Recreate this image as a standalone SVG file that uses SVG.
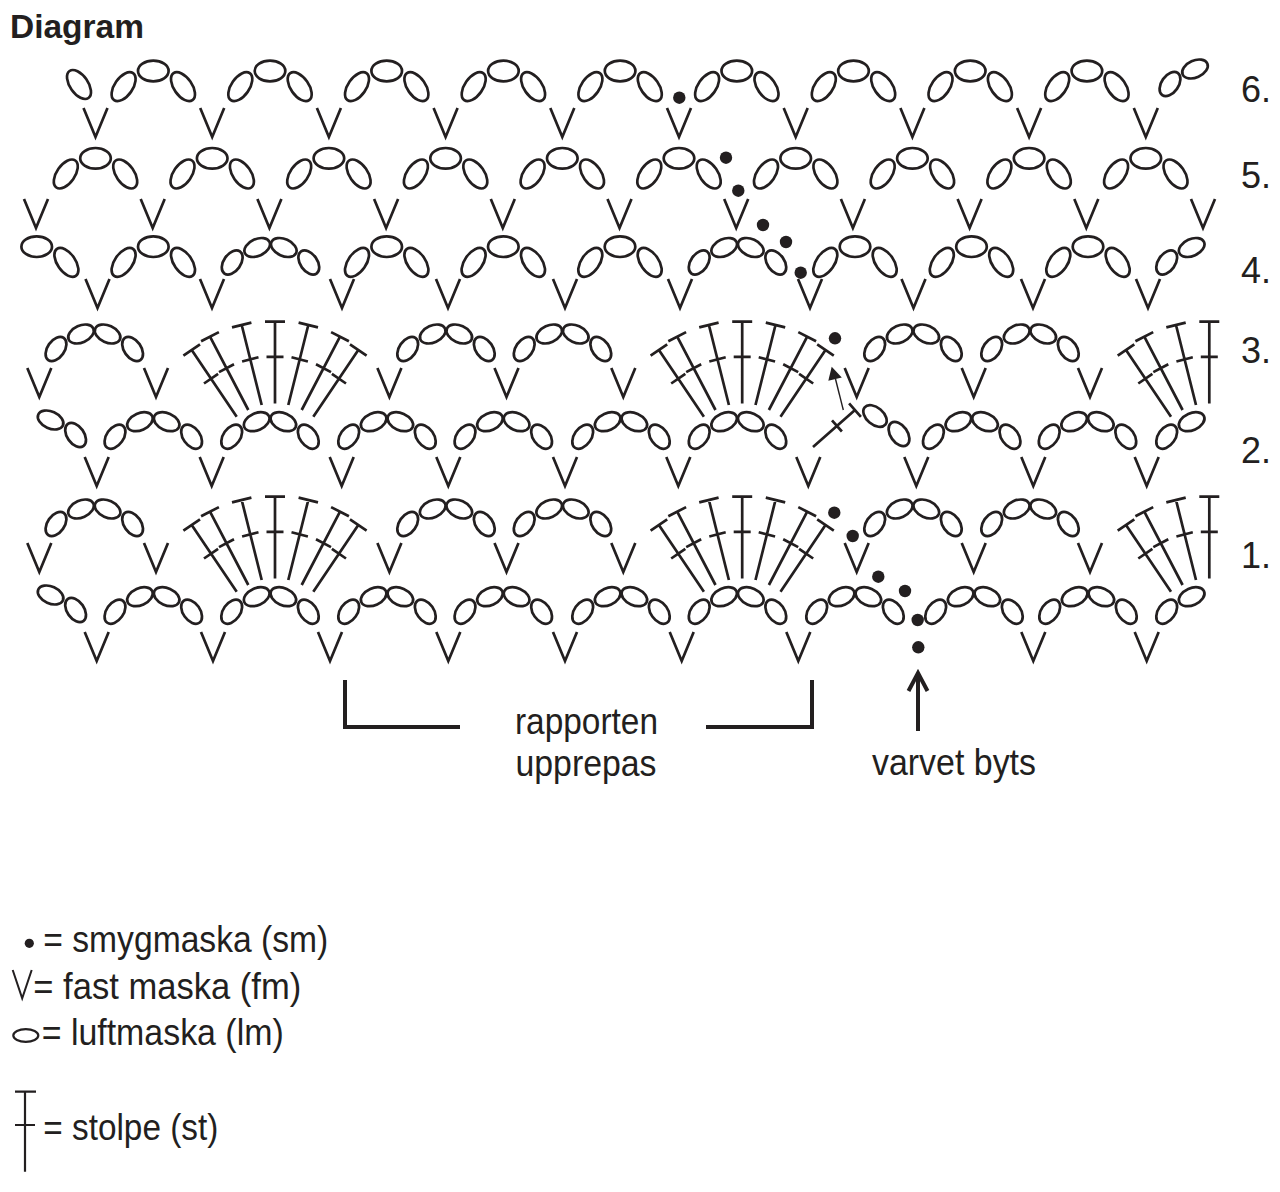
<svg xmlns="http://www.w3.org/2000/svg" xmlns:xlink="http://www.w3.org/1999/xlink" width="1280" height="1192" viewBox="0 0 1280 1192">
<style>
.ln{fill:none;stroke:#231f20;stroke-width:2.7}
.thick{fill:none;stroke:#231f20;stroke-width:4}
.thin{fill:none;stroke:#231f20;stroke-width:1.4}
.dot{fill:#231f20}
.t{font-family:"Liberation Sans",Arial,Helvetica,sans-serif;fill:#231f20;font-size:36px}
.b{font-family:"Liberation Sans",Arial,Helvetica,sans-serif;fill:#231f20;font-size:33px;font-weight:bold}
</style>
<defs>
<path id="v" d="M-12,0L0,29L12,0"/>
<g id="a3"><ellipse rx="15.3" ry="10.3"/><ellipse rx="16.5" ry="9" transform="translate(-29.7 15.7) rotate(-55)"/><ellipse rx="16.5" ry="9" transform="translate(29.7 15.7) rotate(55)"/></g>
<g id="a3r"><ellipse rx="15.3" ry="10.3"/><ellipse rx="16.5" ry="9" transform="translate(29.7 15.7) rotate(55)"/></g>
<g id="a4l"><ellipse rx="13.5" ry="8.5" transform="translate(-38.3 15) rotate(-55)"/><ellipse rx="13.5" ry="8.5" transform="translate(-13.3 0) rotate(-24)"/></g>
<g id="a4r"><ellipse rx="13.5" ry="8.5" transform="translate(13.3 0) rotate(24)"/><ellipse rx="13.5" ry="8.5" transform="translate(38.3 15) rotate(55)"/></g>
<g id="a4"><use href="#a4l"/><use href="#a4r"/></g>
<path id="fanL" d="M0,0V81.7M-10,0H10M-8.5,35.1H8.5M-33.3,3.3L-13.3,83.3M-43,5.7L-23.6,0.9M-32.9,39.8L-16.5,35.6M-65,15L-26.7,88.3M-73.9,19.6L-56.1,10.4M-56,50.4L-41,42.6M-83.3,28.3L-38.3,95M-91.6,33.9L-75,22.7M-71,61.8L-56.9,52.2"/>
<path id="fanR" d="M33.3,3.3L13.3,83.3M43,5.7L23.6,0.9M32.9,39.8L16.5,35.6M65,15L26.7,88.3M73.9,19.6L56.1,10.4M56,50.4L41,42.6M83.3,28.3L38.3,95M91.6,33.9L75,22.7M71,61.8L56.9,52.2"/>
<g id="fan"><use href="#fanL"/><use href="#fanR"/></g>
</defs>
<rect width="1280" height="1192" fill="#ffffff"/>
<text id="title" class="b" x="10" y="38" textLength="134" lengthAdjust="spacingAndGlyphs">Diagram</text>

<g id="row6" class="ln">
<use href="#v" x="95.5" y="108"/><use href="#v" x="212.2" y="108"/><use href="#v" x="328.9" y="108"/><use href="#v" x="445.6" y="108"/><use href="#v" x="562.3" y="108"/><use href="#v" x="679" y="108"/><use href="#v" x="795.7" y="108"/><use href="#v" x="912.4" y="108"/><use href="#v" x="1029.1" y="108"/><use href="#v" x="1145.8" y="108"/>
<use href="#a3" x="153.3" y="71"/><use href="#a3" x="270" y="71"/><use href="#a3" x="386.7" y="71"/><use href="#a3" x="503.4" y="71"/><use href="#a3" x="620.1" y="71"/><use href="#a3" x="736.8" y="71"/><use href="#a3" x="853.5" y="71"/><use href="#a3" x="970.2" y="71"/><use href="#a3" x="1086.9" y="71"/>
<ellipse rx="16.5" ry="9" transform="translate(79 84.5) rotate(55)"/>
<use href="#a4l" x="1208.3" y="69"/>
</g>

<g id="row5" class="ln">
<use href="#v" x="36" y="199"/><use href="#v" x="152.7" y="199"/><use href="#v" x="269.4" y="199"/><use href="#v" x="386.1" y="199"/><use href="#v" x="502.8" y="199"/><use href="#v" x="619.5" y="199"/><use href="#v" x="736.2" y="199"/><use href="#v" x="852.9" y="199"/><use href="#v" x="969.6" y="199"/><use href="#v" x="1086.3" y="199"/><use href="#v" x="1203" y="199"/>
<use href="#a3" x="95.5" y="158.3"/><use href="#a3" x="212.2" y="158.3"/><use href="#a3" x="328.9" y="158.3"/><use href="#a3" x="445.6" y="158.3"/><use href="#a3" x="562.3" y="158.3"/><use href="#a3" x="679" y="158.3"/><use href="#a3" x="795.7" y="158.3"/><use href="#a3" x="912.4" y="158.3"/><use href="#a3" x="1029.1" y="158.3"/><use href="#a3" x="1145.8" y="158.3"/>
</g>

<g id="row4" class="ln">
<use href="#v" x="97.5" y="279"/><use href="#v" x="212" y="279"/><use href="#v" x="342" y="279"/><use href="#v" x="448" y="279"/><use href="#v" x="565" y="279"/><use href="#v" x="680" y="279"/><use href="#v" x="810" y="279"/><use href="#v" x="913.5" y="279"/><use href="#v" x="1033" y="279"/><use href="#v" x="1148" y="279"/>
<use href="#a3r" x="36.7" y="246.7"/>
<use href="#a3" x="153.3" y="246.7"/><use href="#a3" x="386.7" y="246.7"/><use href="#a3" x="503.3" y="246.7"/><use href="#a3" x="620" y="246.7"/><use href="#a3" x="855" y="246.7"/><use href="#a3" x="971.5" y="246.7"/><use href="#a3" x="1088" y="246.7"/>
<use href="#a4" x="270.5" y="247.5"/><use href="#a4" x="737.5" y="247.5"/>
<use href="#a4l" x="1205" y="247.5"/>
</g>

<g id="row3" class="ln">
<use href="#v" x="39.3" y="368"/><use href="#v" x="156" y="368"/><use href="#v" x="389.4" y="368"/><use href="#v" x="506.5" y="368"/><use href="#v" x="623.3" y="368"/><use href="#v" x="856.7" y="368"/><use href="#v" x="973.7" y="368"/><use href="#v" x="1090" y="368"/>
<use href="#a4" x="94.3" y="334"/><use href="#a4" x="446" y="334"/><use href="#a4" x="562.5" y="334"/><use href="#a4" x="913" y="334"/><use href="#a4" x="1030" y="334"/>
<use href="#fan" x="275" y="321.7"/><use href="#fan" x="742.2" y="321.7"/><use href="#fanL" x="1209.3" y="321.7"/>
</g>

<g id="row2" class="ln">
<use href="#v" x="96.7" y="457"/><use href="#v" x="211.7" y="457"/><use href="#v" x="341.7" y="457"/><use href="#v" x="448.3" y="457"/><use href="#v" x="565" y="457"/><use href="#v" x="678.3" y="457"/><use href="#v" x="808.3" y="457"/><use href="#v" x="916.3" y="457"/><use href="#v" x="1033.3" y="457"/><use href="#v" x="1146.7" y="457"/>
<use href="#a4r" x="37.3" y="420"/>
<use href="#a4" x="153.3" y="421.7"/><use href="#a4" x="270" y="421.7"/><use href="#a4" x="387" y="421.7"/><use href="#a4" x="503.3" y="421.7"/><use href="#a4" x="621" y="421.7"/><use href="#a4" x="737.5" y="421.7"/><use href="#a4" x="971.7" y="421.7"/><use href="#a4" x="1087.5" y="421.7"/>
<use href="#a4l" x="1205" y="421.7"/>
<path d="M813,447L855,410M849.1,403.3L860.9,416.8M832,420.3L841.9,431.5"/>
<ellipse rx="13.5" ry="8.5" transform="translate(875 416) rotate(40)"/>
<ellipse rx="13.5" ry="8.5" transform="translate(899 434) rotate(55)"/>
</g>

<g id="row1" class="ln">
<use href="#v" x="39.3" y="543"/><use href="#v" x="156" y="543"/><use href="#v" x="389.4" y="543"/><use href="#v" x="506.5" y="543"/><use href="#v" x="623.3" y="543"/><use href="#v" x="856.7" y="543"/><use href="#v" x="973.7" y="543"/><use href="#v" x="1090" y="543"/>
<use href="#a4" x="94.3" y="509"/><use href="#a4" x="446" y="509"/><use href="#a4" x="562.5" y="509"/><use href="#a4" x="913" y="509"/><use href="#a4" x="1030" y="509"/>
<use href="#fan" x="275" y="496.7"/><use href="#fan" x="742.2" y="496.7"/><use href="#fanL" x="1209.3" y="496.7"/>
</g>

<g id="row0" class="ln">
<use href="#v" x="96.7" y="632"/><use href="#v" x="213" y="632"/><use href="#v" x="330" y="632"/><use href="#v" x="448.3" y="632"/><use href="#v" x="565" y="632"/><use href="#v" x="681.7" y="632"/><use href="#v" x="798.3" y="632"/><use href="#v" x="1033.3" y="632"/><use href="#v" x="1146.7" y="632"/>
<use href="#a4r" x="37.3" y="595"/>
<use href="#a4" x="153.3" y="596.7"/><use href="#a4" x="270" y="596.7"/><use href="#a4" x="387" y="596.7"/><use href="#a4" x="503.3" y="596.7"/><use href="#a4" x="621" y="596.7"/><use href="#a4" x="737.5" y="596.7"/><use href="#a4" x="855" y="596.7"/><use href="#a4" x="974" y="596.7"/><use href="#a4" x="1088" y="596.7"/>
<use href="#a4l" x="1205" y="596.7"/>
</g>

<g id="slipstitches" class="dot">
<circle cx="679.3" cy="97.7" r="6.2"/>
<circle cx="726" cy="157.7" r="6.2"/><circle cx="738.3" cy="190.7" r="6.2"/>
<circle cx="763" cy="225" r="6.2"/><circle cx="786" cy="242" r="6.2"/><circle cx="800.7" cy="272.7" r="6.2"/>
<circle cx="835" cy="338.3" r="6.2"/>
<circle cx="834.3" cy="512.7" r="6.2"/><circle cx="852.7" cy="536" r="6.2"/>
<circle cx="878.3" cy="576.7" r="6.2"/><circle cx="905" cy="591" r="6.2"/><circle cx="917.7" cy="620" r="6.2"/><circle cx="918.3" cy="647.3" r="6.2"/>
</g>

<g id="connectors">
<path class="thin" d="M843.3,410L835.5,379"/>
<path class="dot" d="M831.7,366.7L828.3,380.8L841.8,377.4Z"/>
<path class="thick" d="M345,680V727H460"/>
<path class="thick" d="M706,727H812V680"/>
<path class="thick" d="M918,731V675M908.5,691L918,673L927.5,691"/>
</g>

<g id="row-labels">
<text class="t" x="1241" y="101.7">6.</text>
<text class="t" x="1241" y="188">5.</text>
<text class="t" x="1241" y="283">4.</text>
<text class="t" x="1241" y="363">3.</text>
<text class="t" x="1241" y="463">2.</text>
<text class="t" x="1241" y="568">1.</text>
</g>

<g id="notes">
<text class="t" x="586.5" y="734" text-anchor="middle" textLength="143" lengthAdjust="spacingAndGlyphs">rapporten</text>
<text class="t" x="586" y="776" text-anchor="middle" textLength="141" lengthAdjust="spacingAndGlyphs">upprepas</text>
<text class="t" x="954" y="775" text-anchor="middle" textLength="164" lengthAdjust="spacingAndGlyphs">varvet byts</text>
</g>

<g id="legend">
<g id="legend-sm"><circle class="dot" cx="29.3" cy="943.3" r="4.6"/><text class="t" x="43.3" y="951.7" textLength="285" lengthAdjust="spacingAndGlyphs">= smygmaska (sm)</text></g>
<g id="legend-fm"><path fill="none" stroke="#231f20" stroke-width="2" d="M12.7,970L22.2,998.3L31.7,970"/><text class="t" x="33.3" y="999.3" textLength="268" lengthAdjust="spacingAndGlyphs">= fast maska (fm)</text></g>
<g id="legend-lm"><ellipse fill="none" stroke="#231f20" stroke-width="2.2" cx="25.8" cy="1035.5" rx="12.5" ry="6.3"/><text class="t" x="41.7" y="1045" textLength="242" lengthAdjust="spacingAndGlyphs">= luftmaska (lm)</text></g>
<g id="legend-st"><path fill="none" stroke="#231f20" stroke-width="2.2" d="M15,1091.7H36M25,1091.7V1171.7M15,1125H35"/><text class="t" x="43.3" y="1140" textLength="175" lengthAdjust="spacingAndGlyphs">= stolpe (st)</text></g>
</g>
</svg>
